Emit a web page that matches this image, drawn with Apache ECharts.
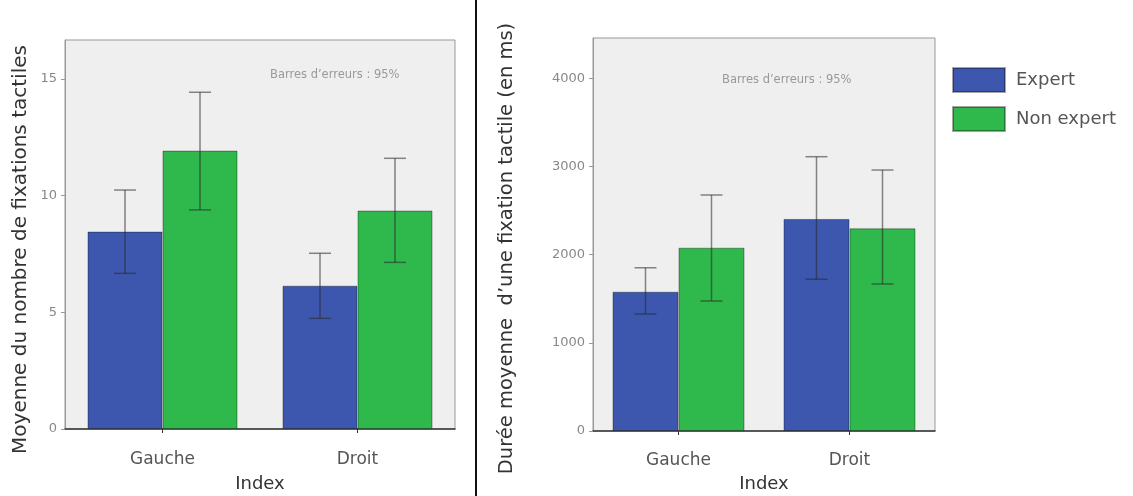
<!DOCTYPE html>
<html><head><meta charset="utf-8">
<script src="https://cdn.jsdelivr.net/npm/echarts@6/dist/echarts.min.js"></script>
<style>html,body{margin:0;padding:0;background:#fff}#c{width:1133px;height:496px}</style>
</head><body><div id="c"></div>
<script>
const categories = ['Gauche', 'Droit'];
const groups = ['Expert', 'Non expert'];
// Left panel: mean number of tactile fixations
const leftExpert = [8.46, 6.14];
const leftNonExpert = [11.93, 9.36];
const leftExpertLow = [6.67, 4.74];
const leftExpertHigh = [10.24, 7.53];
const leftNonExpertLow = [9.39, 7.14];
const leftNonExpertHigh = [14.43, 11.6];
// Right panel: mean duration of a tactile fixation (ms)
const rightExpert = [1579, 2404];
const rightNonExpert = [2078, 2298];
const rightExpertLow = [1327, 1720];
const rightExpertHigh = [1851, 3110];
const rightNonExpertLow = [1474, 1667];
const rightNonExpertHigh = [2676, 2959];
const leftTicks = [0, 5, 10, 15];
const rightTicks = [0, 1000, 2000, 3000, 4000];

const FONT = 'DejaVu Sans';
const blue = '#3e57ae';
const green = '#2fb84b';

function errSeries(name, gi, low, high, barW, side) {
  return {
    type: 'custom', name: name + '_err', xAxisIndex: gi, yAxisIndex: gi, z: 5,
    silent: true, legendHoverLink: false,
    data: low.map((l, i) => [i, l, high[i]]),
    renderItem: function (params, api) {
      const lo = api.coord([api.value(0), api.value(1)]);
      const hi = api.coord([api.value(0), api.value(2)]);
      const x = lo[0] + side * barW / 2;
      const cap = 11;
      const st = { stroke: 'rgba(40,40,40,0.55)', lineWidth: 1.5 };
      return { type: 'group', children: [
        { type: 'line', shape: { x1: x, y1: lo[1], x2: x, y2: hi[1] }, style: st },
        { type: 'line', shape: { x1: x - cap, y1: lo[1], x2: x + cap, y2: lo[1] }, style: st },
        { type: 'line', shape: { x1: x - cap, y1: hi[1], x2: x + cap, y2: hi[1] }, style: st }
      ]};
    }
  };
}

const leftBarW = 75, rightBarW = 66;
function barSeries(name, gi, data, color, w) {
  return {
    type: 'bar', name: name, xAxisIndex: gi, yAxisIndex: gi, data: data,
    barWidth: w, barGap: '0%',
    itemStyle: { color: color, borderColor: 'rgba(0,0,0,0.35)', borderWidth: 1 }
  };
}

function xAxis(gi, margin, gap) {
  return {
    type: 'category', gridIndex: gi, data: categories,
    name: 'Index', nameLocation: 'middle', nameGap: gap,
    nameTextStyle: { fontFamily: FONT, fontSize: 18, color: '#333' },
    axisLine: { lineStyle: { color: '#333', width: 1.5 } },
    axisTick: { show: true, alignWithLabel: true, length: 4, lineStyle: { color: '#333' } },
    axisLabel: { fontFamily: FONT, fontSize: 17, color: '#555', margin: margin }
  };
}
function yAxis(gi, max, interval, ticks, name, gap, fs, shift) {
  return {
    type: 'value', gridIndex: gi, min: 0, max: max, interval: interval,
    name: name, nameLocation: 'middle', nameGap: gap,
    nameTextStyle: { fontFamily: FONT, fontSize: fs, color: '#333', padding: [0, shift, 0, 0] },
    axisLine: { show: true, lineStyle: { color: '#999' } },
    axisTick: { show: true, length: 4, lineStyle: { color: '#999' }, customValues: ticks },
    axisLabel: { fontFamily: FONT, fontSize: 13, color: '#888', margin: 8, customValues: ticks,
      formatter: v => String(v) },
    splitLine: { show: false }
  };
}

const chart = echarts.init(document.getElementById('c'));
chart.setOption({
  backgroundColor: '#fff',
  animation: false,
  grid: [
    { left: 65, top: 40, right: 678, bottom: 67, outerBoundsMode: 'none', containLabel: false,
      show: true, backgroundColor: '#efefef', borderColor: '#999', borderWidth: 1 },
    { left: 593, top: 38, right: 198, bottom: 65, outerBoundsMode: 'none', containLabel: false,
      show: true, backgroundColor: '#efefef', borderColor: '#999', borderWidth: 1 }
  ],
  xAxis: [xAxis(0, 22, 46), xAxis(1, 21, 44)],
  yAxis: [
    yAxis(0, 16.67, 5, leftTicks, 'Moyenne du nombre de fixations tactiles', 34, 20, 30),
    yAxis(1, 4456, 1000, rightTicks, 'Durée moyenne  d\u2019une fixation tactile (en ms)', 76, 19.5, 28)
  ],
  legend: {
    data: groups, orient: 'vertical', left: 947, top: 62,
    itemWidth: 52, itemHeight: 24, itemGap: 13, icon: 'rect',
    textStyle: { fontFamily: FONT, fontSize: 18, color: '#555', padding: [0, 0, 0, 6] }
  },
  graphic: [
    { type: 'line', shape: { x1: 476, y1: 0, x2: 476, y2: 496 }, style: { stroke: '#111', lineWidth: 2 }, z: 100 },
    { type: 'text', left: 270, top: 69, style: { text: 'Barres d\u2019erreurs : 95%', fontFamily: FONT, fontSize: 11.5, fill: '#999' }, z: 100 },
    { type: 'text', left: 722, top: 74, style: { text: 'Barres d\u2019erreurs : 95%', fontFamily: FONT, fontSize: 11.5, fill: '#999' }, z: 100 }
  ],
  series: [
    barSeries('Expert', 0, leftExpert, blue, leftBarW),
    barSeries('Non expert', 0, leftNonExpert, green, leftBarW),
    barSeries('Expert', 1, rightExpert, blue, rightBarW),
    barSeries('Non expert', 1, rightNonExpert, green, rightBarW),
    errSeries('Expert', 0, leftExpertLow, leftExpertHigh, leftBarW, -1),
    errSeries('Non expert', 0, leftNonExpertLow, leftNonExpertHigh, leftBarW, 1),
    errSeries('Expert', 1, rightExpertLow, rightExpertHigh, rightBarW, -1),
    errSeries('Non expert', 1, rightNonExpertLow, rightNonExpertHigh, rightBarW, 1)
  ]
});
</script></body></html>
